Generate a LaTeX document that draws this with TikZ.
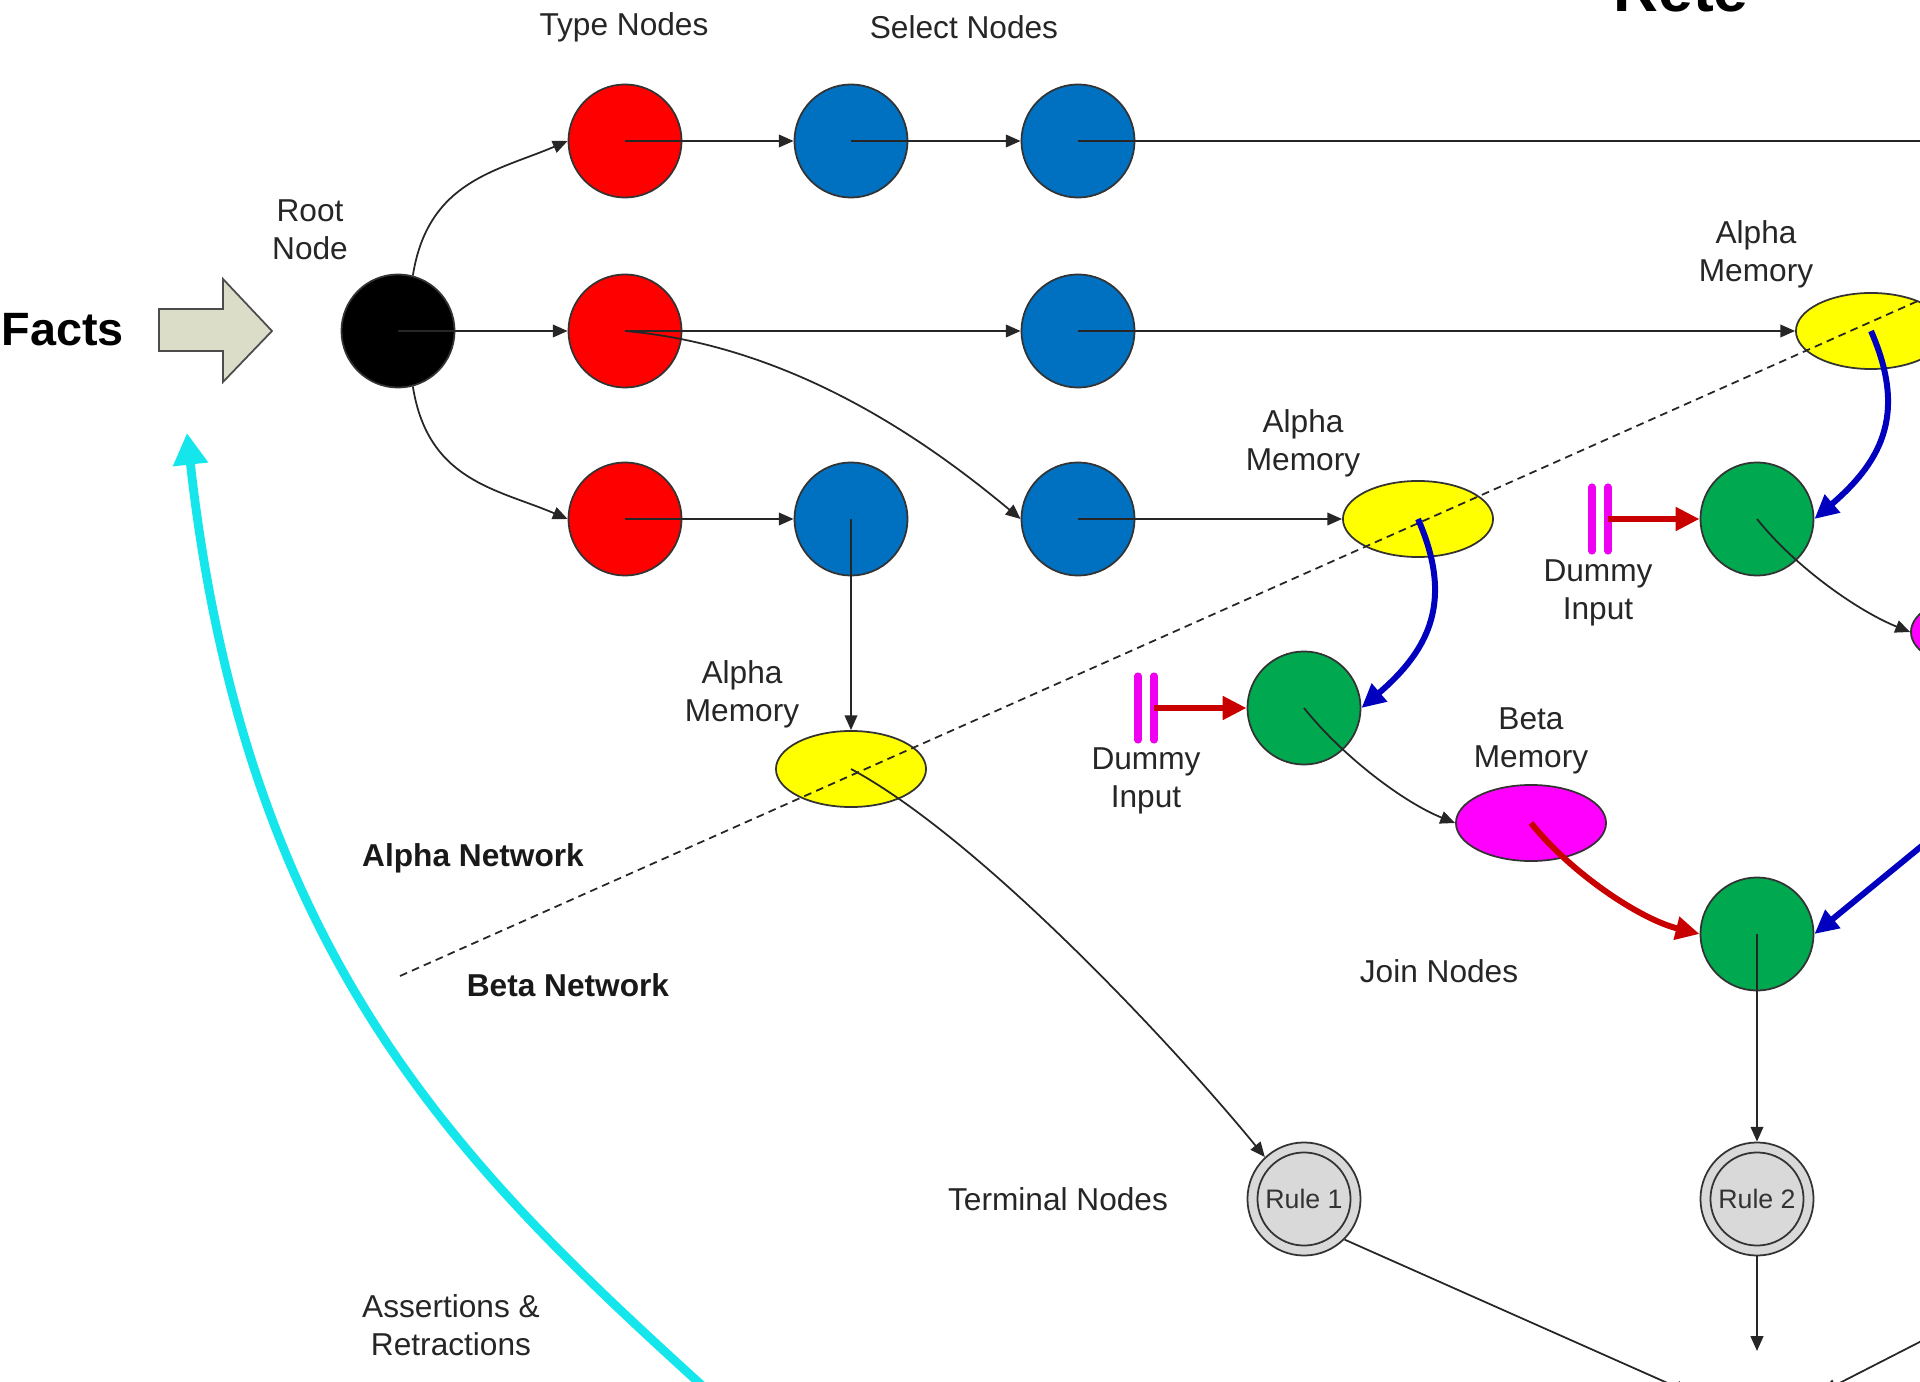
\documentclass[tikz,border=0pt]{standalone}
\usepackage{fontspec}
\setmainfont{Liberation Sans}
\usetikzlibrary{arrows.meta,shapes.geometric}

\definecolor{typered}{RGB}{255,0,0}
\definecolor{selblue}{RGB}{0,112,192}
\definecolor{joingreen}{RGB}{0,168,80}
\definecolor{memyellow}{RGB}{255,255,0}
\definecolor{memmagenta}{RGB}{255,0,255}
\definecolor{termgray}{RGB}{217,217,217}
\definecolor{factfill}{RGB}{219,221,201}
\definecolor{flowcyan}{RGB}{20,230,236}
\definecolor{alphablue}{RGB}{0,0,190}
\definecolor{betared}{RGB}{200,0,0}
\definecolor{dummypink}{RGB}{240,0,240}

\begin{document}
\begin{tikzpicture}[x=0.01cm, y=-0.01cm,
  lbl/.style={font=\fontsize{9}{10.8}\selectfont, text=black!85, align=center, inner sep=0},
  boldlbl/.style={font=\bfseries\fontsize{9}{10.8}\selectfont, text=black!90, inner sep=0},
  circ/.style={circle, draw=black!80, line width=0.5pt, minimum size=1.13cm, inner sep=0},
  typen/.style={circ, fill=typered},
  selectn/.style={circ, fill=selblue},
  joinn/.style={circ, fill=joingreen},
  rootn/.style={circ, fill=black},
  amem/.style={ellipse, draw=black!80, line width=0.5pt, fill=memyellow,
    minimum width=1.5cm, minimum height=0.76cm, inner sep=0},
  bmem/.style={amem, fill=memmagenta},
  termn/.style={circ, fill=termgray, font=\fontsize{7.6}{9}\selectfont, text=black!80,
    path picture={\draw[black!80, line width=0.5pt]
      (path picture bounding box.center) circle (0.465cm);}},
  dummyn/.style={minimum width=0.16cm, minimum height=0.64cm, inner sep=0, outer sep=0},
  bar/.style={dummypink, line width=2pt, line cap=round},
  conn/.style={black!85, line width=0.5pt, -{Triangle[length=4.2pt,width=3.6pt]}},
  plain/.style={black!85, line width=0.5pt},
  bluearrow/.style={alphablue, line width=1.7pt, -{Triangle[length=6.8pt,width=6.4pt]}},
  redarrow/.style={betared, line width=1.7pt, -{Triangle[length=6.8pt,width=6.4pt]}},
  cyanarrow/.style={flowcyan, line width=2.5pt, -{Triangle[length=9pt,width=9.5pt]}},
  divider/.style={black!85, line width=0.5pt, dash pattern=on 2.2pt off 1.5pt}
]
\useasboundingbox (0,0) rectangle (1920,1382);
\clip (0,0) rectangle (1920,1382);

% ---- headings and captions
\node[font=\bfseries\fontsize{17.7}{20}\selectfont, anchor=base] (title) at (1681,12) {Rete};
\node[font=\bfseries\fontsize{13.3}{16}\selectfont, anchor=west, inner sep=0] (facts) at (1,330) {Facts};
\node[lbl] (rootlbl) at (310,230) {Root\\Node};
\node[lbl] (typelbl) at (624,27) {Type Nodes};
\node[lbl] (sellbl) at (964,27) {Select Nodes};
\node[lbl] (am1lbl) at (742,694) {Alpha\\Memory};
\node[lbl] (am2lbl) at (1303,443) {Alpha\\Memory};
\node[lbl] (am3lbl) at (1756,254) {Alpha\\Memory};
\node[lbl] (d1lbl) at (1146,781) {Dummy\\Input};
\node[lbl] (d2lbl) at (1598,593) {Dummy\\Input};
\node[lbl] (bmlbl) at (1531,741) {Beta\\Memory};
\node[lbl] (joinlbl) at (1439,971) {Join Nodes};
\node[lbl] (termlbl) at (1058,1199) {Terminal Nodes};
\node[lbl] (asslbl) at (451,1325) {Assertions \&\\Retractions};
\node[boldlbl] (alphanet) at (473,858) {Alpha Network};
\node[boldlbl] (betanet) at (568,985) {Beta Network};

% ---- block arrow feeding the facts in
\draw[gray!60!black, line width=0.5pt, fill=factfill]
  (159,309) -- (223,309) -- (223,279) -- (272,331) -- (223,382) -- (223,351) -- (159,351) -- cycle;

% ---- alpha network nodes
\node[rootn] (root) at (398,331) {};
\node[typen] (t1) at (625,141) {};
\node[typen] (t2) at (625,331) {};
\node[typen] (t3) at (625,519) {};
\node[selectn] (s1) at (851,141) {};
\node[selectn] (s2) at (1078,141) {};
\node[selectn] (s3) at (1078,331) {};
\node[selectn] (s4) at (851,519) {};
\node[selectn] (s5) at (1078,519) {};
\node[amem] (am1) at (851,769) {};
\node[amem] (am2) at (1418,519) {};
\node[amem] (am3) at (1871,331) {};

% ---- beta network nodes
\node[joinn] (g1) at (1304,708) {};
\node[joinn] (g2) at (1757,519) {};
\node[joinn] (g3) at (1757,934) {};
\node[bmem] (bm1) at (1531,823) {};
\node[bmem] (bm2) at (1986,632) {};
\node[termn] (r1) at (1304,1199) {Rule 1};
\node[termn] (r2) at (1757,1199) {Rule 2};
\node[dummyn] (d1) at (1146,708) {};
\node[dummyn] (d2) at (1600,519) {};

% ---- loose ends running past the frame
\coordinate (toprowout) at (1930,141);
\coordinate (farblue) at (1990,790);
\coordinate (agendaL) at (1690,1393);
\coordinate (agendaM) at (1757,1351);
\coordinate (farright) at (1990,1306);
\coordinate (agendaR) at (1822,1392);
\coordinate (cyanfrom) at (740,1420);
\coordinate (cyantip) at (187,433);

% ---- root to type nodes
\draw[conn] (root.75) .. controls +(15,-95) and +(-70,30) .. (t1.west);
\draw[conn] (root.center) -- (t2);
\draw[conn] (root.-75) .. controls +(15,95) and +(-70,-30) .. (t3.west);

% ---- type and select chains
\draw[conn] (t1.center) -- (s1);
\draw[conn] (s1.center) -- (s2);
\draw[plain] (s2.center) -- (toprowout);
\draw[conn] (t2.center) -- (s3);
\draw[conn] (s3.center) -- (am3.west);
\draw[conn] (t2.center) .. controls +(170,15) and +(-90,-75) .. (s5.west);
\draw[conn] (t3.center) -- (s4);
\draw[conn] (s5.center) -- (am2.west);
\draw[conn] (s4.center) -- (am1.north);

% ---- boundary between the two networks
\draw[divider] (400,976) -- (1965,280);

% ---- dummy inputs
\draw[bar] (d1.north west) -- (d1.south west);
\draw[bar] (d1.north east) -- (d1.south east);
\draw[bar] (d2.north west) -- (d2.south west);
\draw[bar] (d2.north east) -- (d2.south east);
\draw[redarrow] (d1.east) -- (g1.west);
\draw[redarrow] (d2.east) -- (g2.west);

% ---- alpha memories into join nodes
\draw[bluearrow] (am2.center) .. controls +(35,80) and +(70,-60) .. (g1.east);
\draw[bluearrow] (am3.center) .. controls +(35,80) and +(70,-60) .. (g2.east);
\draw[bluearrow] (farblue) -- (g3.east);

% ---- join nodes into beta memories
\draw[conn] (g1.center) .. controls +(40,50) and +(-50,-20) .. (bm1.west);
\draw[conn] (g2.center) .. controls +(40,50) and +(-50,-20) .. (bm2.west);
\draw[redarrow] (bm1.center) .. controls +(40,50) and +(-60,-15) .. (g3.west);

% ---- terminal nodes
\draw[conn] (am1.center) .. controls +(130,70) and +(-90,-110) .. (r1.133);
\draw[conn] (g3.center) -- (r2.north);
\draw[conn] (r1.-45) -- (agendaL);
\draw[conn] (r2.south) -- (agendaM);
\draw[conn] (farright) -- (agendaR);

% ---- feedback of assertions and retractions
\draw[cyanarrow] (cyanfrom) .. controls (481,1185) and (248,980) .. (cyantip);
\end{tikzpicture}
\end{document}
